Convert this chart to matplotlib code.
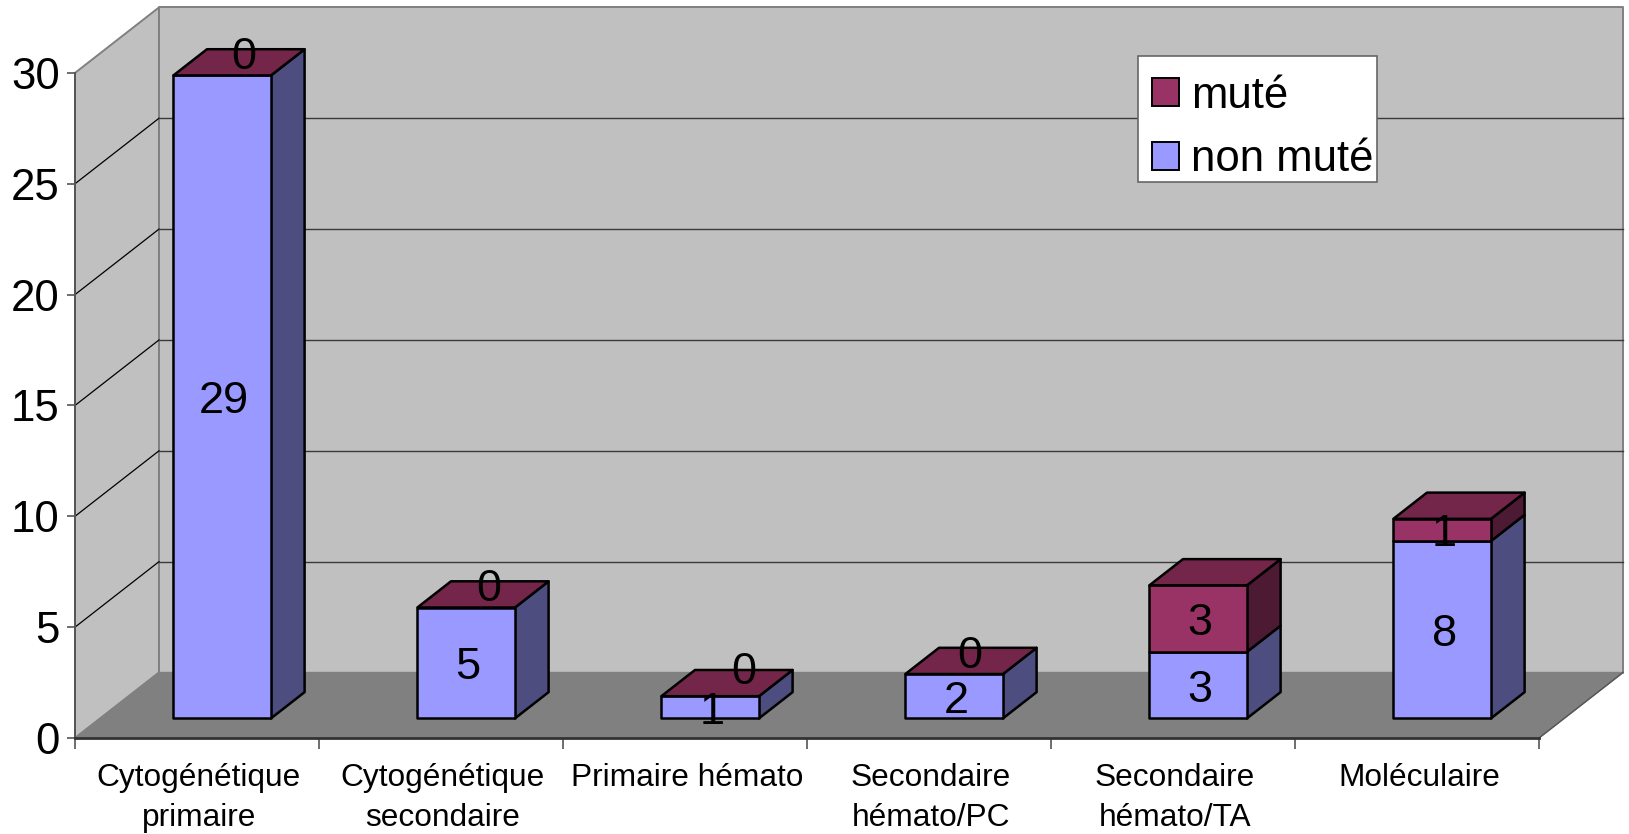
"""Stacked pseudo-3D column chart: mutated / non-mutated counts per category."""

import matplotlib
matplotlib.use("Agg")
import matplotlib.pyplot as plt  # noqa: E402
from matplotlib.patches import Patch, Polygon, Rectangle  # noqa: E402

categories = [
    "Cytogénétique\nprimaire",
    "Cytogénétique\nsecondaire",
    "Primaire hémato",
    "Secondaire\nhémato/PC",
    "Secondaire\nhémato/TA",
    "Moléculaire",
]
non_mute = [29, 5, 1, 2, 3, 8]
mute = [0, 0, 0, 0, 3, 1]
y_ticks = [0, 5, 10, 15, 20, 25, 30]

BLUE = ("#9999FF", "#4D4D80")
PURPLE = ("#993366", "#4D1A33", "#732649")
WALL, FLOOR, EDGE = "#C0C0C0", "#808080", "#808080"

plt.rcParams["font.family"] = ["Liberation Sans", "DejaVu Sans"]

W, H = 1629, 834
# depth shear of the box, in data units at the back wall
DX, DY = 84 / 244, 65.5 / 22.17
# columns sit between these depth fractions and these fractions of a category
D0, D1 = 0.30, 0.70
X0, X1 = 0.30, 0.70


def proj(x, y, d):
    return (x + DX * d, y + DY * d)


def face(ax, pts, color, z, edge="black", lw=1.8):
    ax.add_patch(Polygon(pts, closed=True, fc=color, ec=edge, lw=lw, joinstyle="round",
                         clip_on=False, zorder=z))


def column(ax, i, bottom, height, colors, z, top=None):
    x0, x1 = i + X0, i + X1
    y0, y1 = bottom, bottom + height
    if height > 0:
        face(ax, [proj(x1, y0, D0), proj(x1, y0, D1), proj(x1, y1, D1), proj(x1, y1, D0)], colors[1], z)
        face(ax, [proj(x0, y0, D0), proj(x1, y0, D0), proj(x1, y1, D0), proj(x0, y1, D0)], colors[0], z)
    if top:
        face(ax, [proj(x0, y1, D0), proj(x1, y1, D0), proj(x1, y1, D1), proj(x0, y1, D1)], top, z)


def main():
    fig = plt.figure(figsize=(W / 100, H / 100), dpi=100)
    ax = fig.add_axes([75 / W, (H - 738) / H, 1464 / W, 30 * 22.17 / H])
    ax.set_xlim(0, 6)
    ax.set_ylim(0, 30)
    ax.patch.set_visible(False)
    for s in ("top", "right"):
        ax.spines[s].set_visible(False)
    ax.spines["left"].set_color("#555555")
    ax.spines["left"].set_linewidth(1.4)
    ax.spines["bottom"].set_color("#333333")
    ax.spines["bottom"].set_linewidth(2)

    # walls and floor
    face(ax, [proj(0, 0, 0), proj(0, 0, 1), proj(0, 30, 1), proj(0, 30, 0)], WALL, 1, EDGE, 1.4)
    face(ax, [proj(0, 0, 1), proj(6, 0, 1), proj(6, 30, 1), proj(0, 30, 1)], WALL, 1, EDGE, 1.4)
    face(ax, [proj(0, 0, 0), proj(6, 0, 0), proj(6, 0, 1), proj(0, 0, 1)], FLOOR, 1.5, FLOOR, 1)
    ax.plot(*zip(proj(6, 0, 0), proj(6, 0, 1)), color="#555555", lw=1, clip_on=False, zorder=1.6)

    for v in y_ticks[1:-1]:
        ax.plot(*zip(proj(0, v, 0), proj(0, v, 1)), color="black", lw=0.9, clip_on=False, zorder=1.2)
        ax.plot(*zip(proj(0, v, 1), proj(6, v, 1)), color="#3a3a3a", lw=1, clip_on=False, zorder=1.2)

    # nudges for the labels of the empty "muté" segments, in pixels
    zero_nudge = [(22, 18), (23, 18), (34, 24), (16, 18), (0, 0), (0, 0)]
    for i, (n, m) in enumerate(zip(non_mute, mute)):
        column(ax, i, 0, n, BLUE, 3 + i * 0.01)
        column(ax, i, n, m, PURPLE, 3 + i * 0.01, top=PURPLE[2])
        cx, _ = proj(i + 0.5, 0, D0)
        _, cy = proj(0, n / 2, D0)
        ax.annotate(str(n), (cx, cy), xytext=(2, -5), textcoords="offset pixels",
                    ha="center", va="center", fontsize=32.5, annotation_clip=False, zorder=6)
        _, cy = proj(0, n + m / 2, D0)
        nudge = zero_nudge[i] if m == 0 else (2, -5)
        ax.annotate(str(m), (cx, cy), xytext=nudge, textcoords="offset pixels",
                    ha="center", va="center", fontsize=32.5, annotation_clip=False, zorder=6)

    ax.set_yticks(y_ticks)
    ax.tick_params(axis="y", length=6, width=1.2, color="#555555", labelsize=31.5, pad=5)
    ax.set_xticks(range(7))
    ax.set_xticklabels([])
    ax.tick_params(axis="x", which="major", length=8, width=1.2, color="#555555")
    ax.set_xticks([i + 0.508 for i in range(6)], minor=True)
    ax.set_xticklabels(categories, minor=True, fontsize=22.8, linespacing=1.45)
    ax.tick_params(axis="x", which="minor", length=0, pad=18)

    # legend box is drawn apart so the entries can sit low inside it
    ax.add_patch(Rectangle((1138 / W, (H - 182) / H), 239 / W, 126 / H, transform=fig.transFigure,
                           fc="white", ec="#666666", lw=1.2, clip_on=False, zorder=4.9))
    handles = [Patch(fc=PURPLE[0], ec="black", lw=1.4, label="muté"),
               Patch(fc=BLUE[0], ec="black", lw=1.4, label="non muté")]
    leg = ax.legend(handles=handles, loc="upper left", fontsize=31.5,
                    bbox_to_anchor=(1152 / W, (H - 75.5) / H), bbox_transform=fig.transFigure,
                    borderaxespad=0, borderpad=0, labelspacing=0.52, handlelength=0.62,
                    handleheight=0.62, handletextpad=0.27, frameon=False)
    leg.set_zorder(5)

    fig.savefig("out.png", dpi=100)
    plt.close(fig)


if __name__ == "__main__":
    main()
